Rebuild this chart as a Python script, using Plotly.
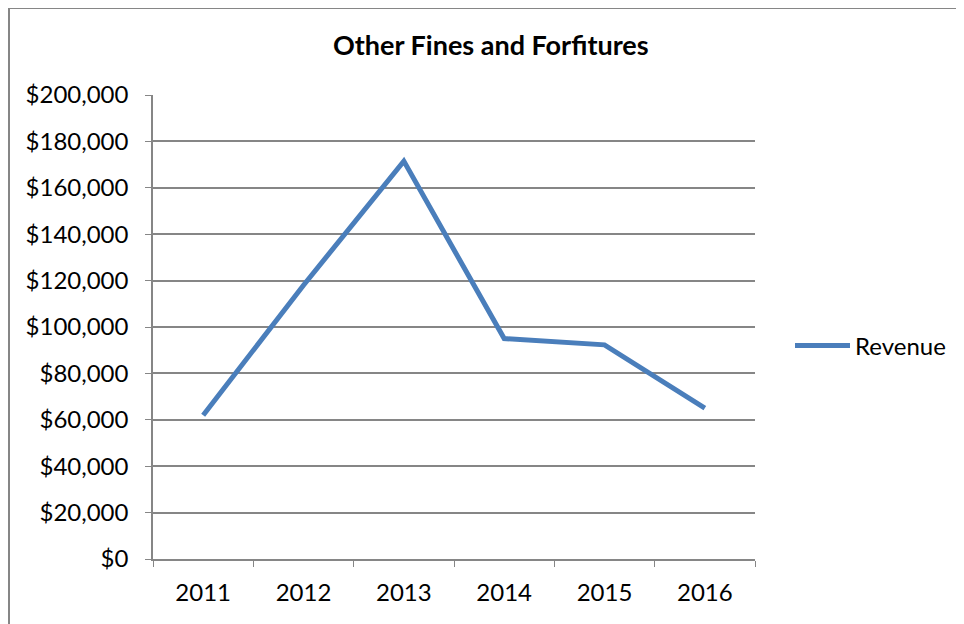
import plotly.graph_objects as go

years = ["2011", "2012", "2013", "2014", "2015", "2016"]
revenue = [62000, 118000, 171500, 95000, 92300, 65000]
y_ticks = [0, 20000, 40000, 60000, 80000, 100000, 120000, 140000, 160000, 180000, 200000]
y_tick_labels = ["$0", "$20,000", "$40,000", "$60,000", "$80,000", "$100,000",
                 "$120,000", "$140,000", "$160,000", "$180,000", "$200,000"]

W, H = 964, 624
OFF = 8  # page offset of the figure (body margin)
L, R, T, B = 153, 755, 95, 559  # plot area in page coordinates


def px(x):
    return (x - L) / (R - L)


def py(y):
    return (B - y) / (B - T)


fig = go.Figure()
fig.add_trace(go.Scatter(
    x=years, y=revenue, mode="lines", name="Revenue",
    line=dict(color="#4a7ebb", width=5),
))

grid = "#868686"
fig.update_layout(
    width=W, height=H,
    margin=dict(l=L - OFF, r=W - R + OFF, t=T - OFF, b=H - B + OFF, pad=0),
    paper_bgcolor="white", plot_bgcolor="white",
    font=dict(family="Lato, Open Sans, sans-serif", size=24, color="black"),
    showlegend=True,
    legend=dict(x=px(790), y=py(346), xanchor="left", yanchor="middle",
                font=dict(size=24), itemwidth=55, bgcolor="rgba(0,0,0,0)"),
    xaxis=dict(type="category", range=[-0.5, 5.5], showgrid=False,
               showline=True, linecolor=grid, linewidth=1.5,
               ticks="outside", ticklen=6, tickcolor=grid, tickson="boundaries",
               ticklabelstandoff=11),
    yaxis=dict(range=[0, 200000], tickvals=y_ticks, ticktext=y_tick_labels,
               showgrid=True, gridcolor=grid, gridwidth=1.5,
               showline=True, linecolor=grid, linewidth=1.5,
               ticks="outside", ticklen=6, tickcolor=grid,
               ticklabelstandoff=12, zeroline=False),
    annotations=[dict(text="<b>Other Fines and Forfitures</b>", xref="paper", yref="paper",
                      x=px(491), y=py(45), xanchor="center", yanchor="middle",
                      showarrow=False, font=dict(size=27))],
    shapes=[
        dict(type="line", xref="paper", yref="paper",
             x0=px(9), x1=px(9), y0=py(8.5), y1=py(640),
             line=dict(color="#868686", width=2)),
        dict(type="line", xref="paper", yref="paper",
             x0=px(8), x1=px(980), y0=py(8.5), y1=py(8.5),
             line=dict(color="#868686", width=1)),
    ],
)

fig.write_html("out.html")
